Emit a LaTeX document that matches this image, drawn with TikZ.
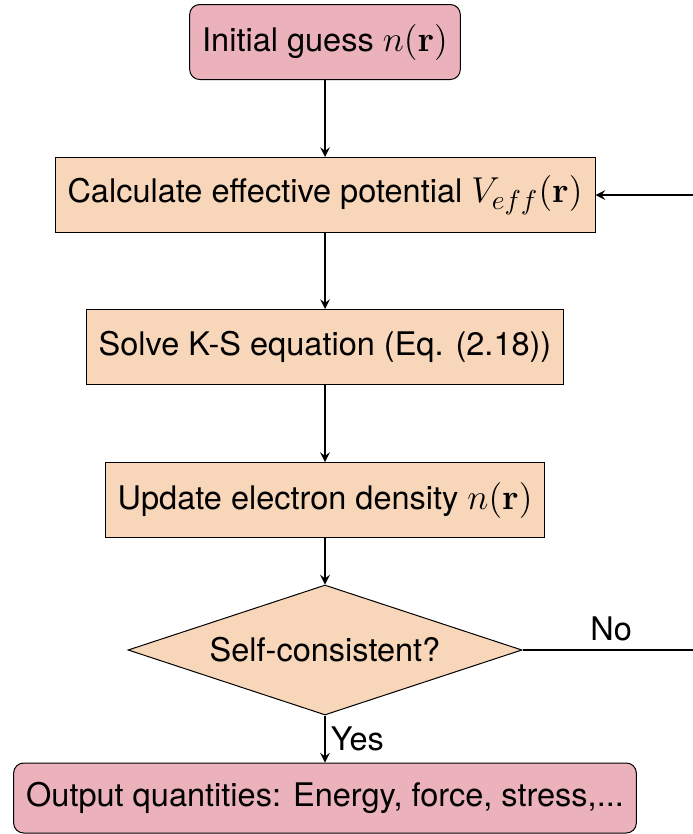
\documentclass[tikz,border=0pt]{standalone}
\usepackage[no-math]{fontspec}
\setmainfont{TeX Gyre Heros}
\usetikzlibrary{shapes.geometric}
\definecolor{startpink}{RGB}{235,178,187}
\definecolor{stepbeige}{RGB}{248,214,185}
\newcommand{\mth}[1]{{\fontsize{15pt}{16pt}\selectfont$#1$}}
\tikzset{
    every node/.style={font=\fontsize{13pt}{15.5pt}\selectfont},
    startstop/.style={rectangle, rounded corners=4pt, draw, fill=startpink, minimum height=30pt, inner xsep=5pt},
    process/.style={rectangle, draw, fill=stepbeige, minimum height=30pt, inner xsep=5pt},
    decision/.style={diamond, aspect=3, draw, fill=stepbeige, minimum width=157.6pt, minimum height=52pt, inner sep=0pt},
    arrow/.style={line width=0.7pt,-stealth}
}
\begin{document}
\begin{tikzpicture}[x=0.4pt,y=-0.4pt]
    \useasboundingbox (0,0) rectangle (693,834);
    \node[startstop] (init) at (325,42) {Initial guess \mth{n(\mathbf{r})}};
    \node[process] (calc) at (325,195) {Calculate effective potential \mth{V_{eff}(\mathbf{r})}};
    \node[process] (solve) at (325,347) {Solve K-S equation (Eq. (2.18))};
    \node[process] (update) at (325,500) {Update electron density \mth{n(\mathbf{r})}};
    \node[decision] (check) at (325,650) {Self-consistent?};
    \node[startstop, minimum height=28pt] (out) at (325,798) {Output quantities: Energy, force, stress,...};
    \coordinate (turn) at (700,650);
    \draw[arrow] (init) -- (calc);
    \draw[arrow] (calc) -- (solve);
    \draw[arrow] (solve) -- (update);
    \draw[arrow] (update) -- (check);
    \draw[arrow] (check) -- node[right,inner sep=2pt] {Yes} (out);
    \draw[arrow] (check.east) -- node[above] {No} (turn) |- (calc.east);
\end{tikzpicture}
\end{document}
